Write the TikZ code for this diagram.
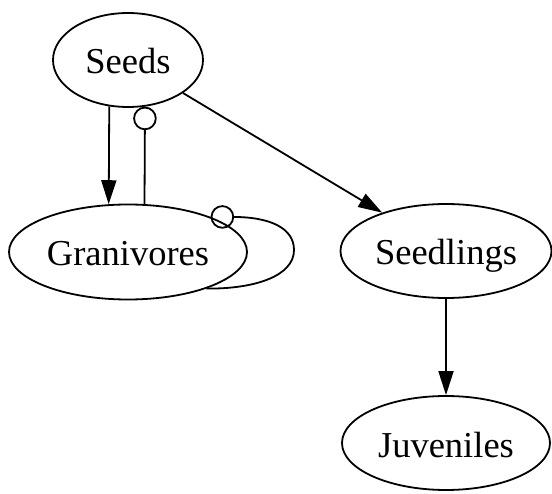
\documentclass[tikz,border=0pt]{standalone}
\usepackage{fontspec}
\setmainfont{Liberation Serif}
\usetikzlibrary{arrows.meta,shapes.geometric}
\begin{document}
\begin{tikzpicture}[x=1pt,y=-1pt, line width=1.8pt,
  state/.style={draw, ellipse, inner sep=0pt, font=\fontsize{36.5}{40}\selectfont, text height=34pt, text depth=6pt},
  arr/.style={-{Triangle[length=24pt,width=15pt]}},
  odot/.style={-{Circle[open,length=23.5pt]}}]
\useasboundingbox (0,0) rectangle (552,494);
\node[state, minimum width=150pt, minimum height=94pt] (seeds) at (128,60) {Seeds};
\node[state, minimum width=238pt, minimum height=95pt] (gran) at (128,252) {Granivores};
\node[state, minimum width=211pt, minimum height=94pt] (seedl) at (446,251) {Seedlings};
\node[state, minimum width=208pt, minimum height=94pt] (juv) at (446,443) {Juveniles};
\draw[arr] (seeds.-112.67) -- (gran.112.06);
\draw[odot] (gran.71.2) -- (seeds.-70.8);
\draw[arr] (seeds) -- (seedl);
\draw[arr] (seedl) -- (juv);
\draw[odot] (gran.-25) .. controls (255,289) and (294,276) .. (294,250) .. controls (294,228) and (270,217) .. (gran.23.7);
\end{tikzpicture}
\end{document}
